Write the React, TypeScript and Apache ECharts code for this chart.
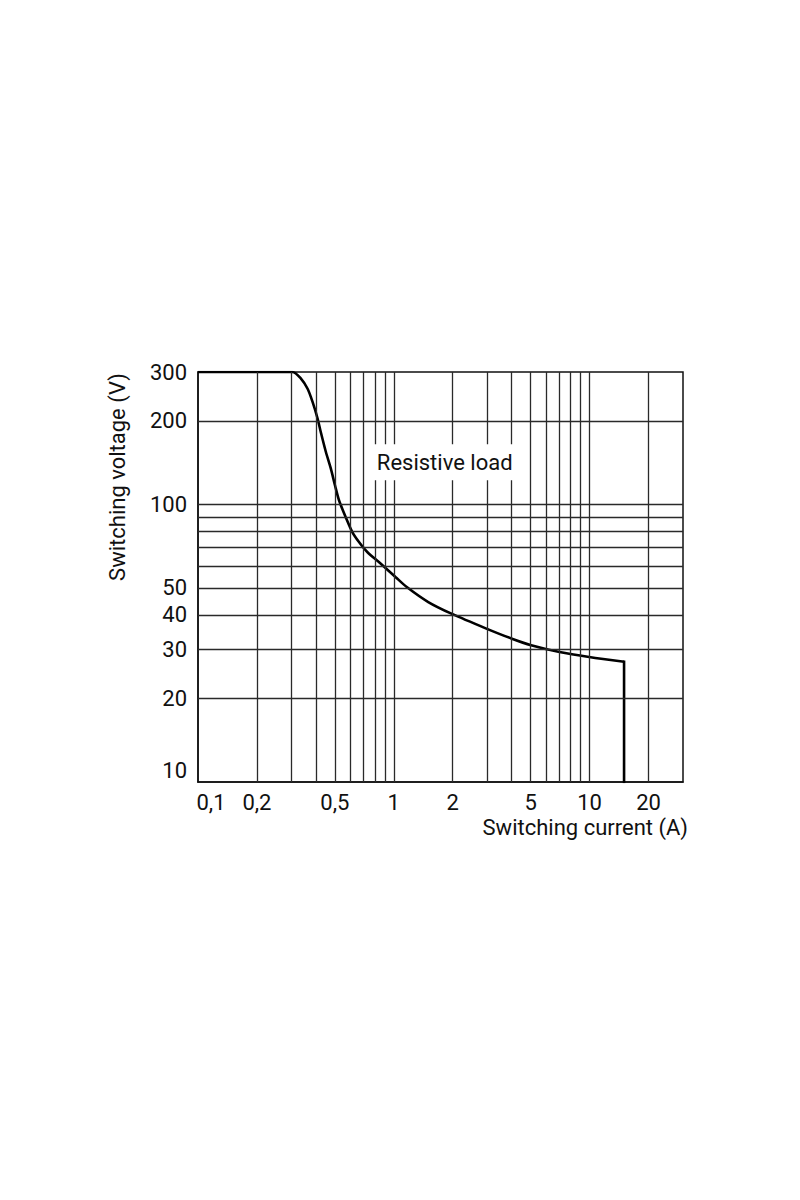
import React, { useEffect, useRef } from "react";
import * as echarts from "echarts";

const xGrid = [0.2, 0.3, 0.4, 0.5, 0.6, 0.7, 0.8, 0.9, 1, 2, 3, 4, 5, 6, 7, 8, 9, 10, 20];
const yGrid = [20, 30, 40, 50, 60, 70, 80, 90, 100, 200];
const xTicks = [0.1, 0.2, 0.5, 1, 2, 5, 10, 20];
const yTicks = [10, 20, 30, 40, 50, 100, 200, 300];

const current = [0.1, 0.303, 0.3356, 0.3628, 0.3847, 0.408, 0.424, 0.45, 0.477, 0.501, 0.525, 0.568, 0.614, 0.664, 0.732, 0.839, 1.02, 1.165, 1.5, 1.97, 2.97, 3.98, 5.03, 7.02, 9.95, 15];
const voltage = [300, 300, 284, 261, 234, 204, 182, 154.5, 134.6, 117, 103.5, 90, 79.5, 73.2, 67.4, 62, 54.8, 50.4, 44.5, 40.4, 35.7, 32.9, 31.1, 29.4, 28.2, 27.1];
const dropCurrent = [15, 15];
const dropVoltage = [27.1, 10];

const FONT = "Roboto";

export default function App() {
  const ref = useRef<HTMLDivElement>(null);
  useEffect(() => {
    if (!ref.current) return;
    const chart = echarts.init(ref.current, undefined, { renderer: "svg" });
    const curve = current.map((c, i) => [c, voltage[i]]);
    const drop = dropCurrent.map((c, i) => [c, dropVoltage[i]]);
    const option: any = {
      animation: false,
      backgroundColor: "#fff",
      textStyle: { fontFamily: FONT },
      grid: {
        left: 198,
        top: 372,
        right: 117,
        bottom: 418,
        show: true,
        borderColor: "#111",
        borderWidth: 1.5,
        backgroundColor: "transparent",
      },
      xAxis: {
        type: "log",
        logBase: 10,
        min: 0.1,
        max: 30,
        axisLine: { show: true, lineStyle: { color: "#111", width: 1.5 } },
        axisTick: { show: false },
        splitLine: { show: false },
        minorSplitLine: { show: false },
        axisLabel: {
          customValues: xTicks,
          margin: 9,
          fontSize: 22,
          color: "#111",
          fontFamily: FONT,
          formatter: (v: number) => {
            const s = String(Math.round(v * 10) / 10).replace(".", ",");
            return v < 0.15 ? "{first|" + s + "}" : s;
          },
          rich: {
            first: { fontSize: 22, fontFamily: FONT, color: "#111", padding: [0, 0, 0, 26] },
          },
        },
      },
      yAxis: {
        type: "log",
        logBase: 10,
        min: 10,
        max: 300,
        axisLine: { show: true, lineStyle: { color: "#111", width: 1.5 } },
        axisTick: { show: false },
        splitLine: { show: false },
        minorSplitLine: { show: false },
        axisLabel: {
          customValues: yTicks,
          margin: 11,
          fontSize: 22,
          color: "#111",
          fontFamily: FONT,
          formatter: (v: number) => {
            const s = String(Math.round(v));
            return v < 15 ? "{lo|" + s + "}" : s;
          },
          rich: {
            lo: { fontSize: 22, fontFamily: FONT, color: "#111", padding: [0, 0, 24, 0] },
          },
        },
      },
      series: [
        {
          type: "line",
          data: [],
          z: 1,
          silent: true,
          markLine: {
            silent: true,
            symbol: ["none", "none"],
            label: { show: false },
            lineStyle: { color: "#2a2a2a", width: 1.3, type: "solid" },
            emphasis: { disabled: true },
            data: [
              ...xGrid.map((v) => ({ xAxis: v })),
              ...yGrid.map((v) => ({ yAxis: v })),
            ],
          },
        },
        {
          type: "line",
          data: curve,
          z: 3,
          showSymbol: false,
          symbol: "none",
          smooth: 0.3,
          lineStyle: { color: "#000", width: 2.6 },
        },
        {
          type: "line",
          data: drop,
          z: 3,
          showSymbol: false,
          symbol: "none",
          lineStyle: { color: "#000", width: 2.6, cap: "square" },
        },
        {
          type: "scatter",
          z: 5,
          data: [[1.82, 142]],
          symbolSize: 1,
          itemStyle: { color: "transparent", opacity: 1 },
          silent: true,
          label: {
            show: true,
            position: "inside",
            formatter: "Resistive load",
            fontSize: 22,
            fontFamily: FONT,
            color: "#111",
            opacity: 1,
            backgroundColor: "#fff",
            padding: [7, 3, 7, 3],
          },
        },
      ],
      graphic: [
        {
          type: "text",
          x: 117,
          y: 477,
          rotation: Math.PI / 2,
          style: {
            text: "Switching voltage (V)",
            fontSize: 22,
            fontFamily: FONT,
            fill: "#111",
            textAlign: "center",
            textVerticalAlign: "middle",
          },
        },
        {
          type: "text",
          x: 688,
          y: 827,
          style: {
            text: "Switching current (A)",
            fontSize: 22,
            fontFamily: FONT,
            fill: "#111",
            textAlign: "right",
            textVerticalAlign: "middle",
          },
        },
      ],
    };
    chart.setOption(option);
    return () => chart.dispose();
  }, []);
  return (
    <div
      ref={ref}
      style={{ position: "fixed", left: 0, top: 0, width: 800, height: 1200, background: "#fff" }}
    />
  );
}
